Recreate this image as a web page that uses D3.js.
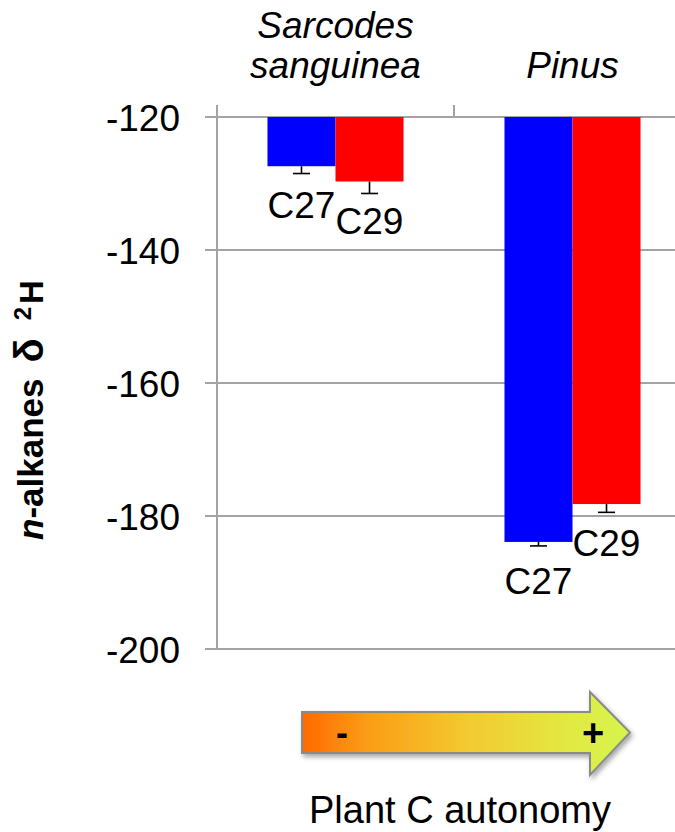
<!DOCTYPE html>
<html>
<head>
<meta charset="utf-8">
<script src="https://cdn.jsdelivr.net/npm/d3@7"></script>
<style>
  html, body { margin: 0; padding: 0; background: #fff; }
  svg { display: block; font-family: "Liberation Sans", Arial, Helvetica, sans-serif; }
</style>
</head>
<body>
<svg id="chart" width="675" height="832"></svg>
<script>
// ---- data ----
const categories = ["Sarcodes sanguinea", "Pinus"];
const categoryLines = [["Sarcodes", "sanguinea"], ["Pinus"]];
const seriesNames = ["C27", "C29"];
const seriesColors = ["#0000ff", "#ff0000"];
const c27Values = [-127.4, -183.9];
const c29Values = [-129.7, -178.2];
const c27Errors = [1.1, 0.6];
const c29Errors = [1.8, 1.25];
const yTicks = [-120, -140, -160, -180, -200];
const axisTitle = { italic: "n", rest: "-alkanes", delta: "δ", sup: "2", tail: "H" };
const arrowLabel = "Plant C autonomy";

const seriesValues = [c27Values, c29Values];
const seriesErrors = [c27Errors, c29Errors];

const svg = d3.select("#chart");

const y = d3.scaleLinear().domain([-120, -200]).range([117, 649]);
const x = d3.scaleBand().domain(categories).range([217, 691]).padding(0);
const groupW = x.bandwidth() * 0.574;
const xs = d3.scaleBand().domain(seriesNames).range([0, groupW]).padding(0);

const gridColor = "#a3a3a3";

// gridlines + left ticks
svg.append("g").selectAll("line").data(yTicks).join("line")
  .attr("x1", 205).attr("x2", 675)
  .attr("y1", d => y(d)).attr("y2", d => y(d))
  .attr("stroke", gridColor).attr("stroke-width", 2);

// y axis line (extends above to category tick)
svg.append("line")
  .attr("x1", 217).attr("x2", 217).attr("y1", 105).attr("y2", y(-200))
  .attr("stroke", gridColor).attr("stroke-width", 2);

// category ticks at top (band boundaries)
const boundaries = categories.map(c => x(c)).concat([x(categories[categories.length - 1]) + x.bandwidth()]);
svg.append("g").selectAll("line").data(boundaries).join("line")
  .attr("x1", d => d).attr("x2", d => d).attr("y1", 105).attr("y2", y(-120))
  .attr("stroke", gridColor).attr("stroke-width", 2);

// y tick labels
svg.append("g").selectAll("text").data(yTicks).join("text")
  .attr("x", 180).attr("y", d => y(d) + 14)
  .attr("text-anchor", "end").attr("font-size", 37).attr("fill", "#000")
  .text(d => d);

// bars
const barData = [];
categories.forEach((c, i) => {
  seriesNames.forEach((s, j) => {
    barData.push({ cat: c, ser: s, value: seriesValues[j][i], err: seriesErrors[j][i], color: seriesColors[j] });
  });
});
const bx = d => x(d.cat) + (x.bandwidth() - groupW) / 2 + xs(d.ser);

svg.append("g").selectAll("rect").data(barData).join("rect")
  .attr("x", bx).attr("width", xs.bandwidth())
  .attr("y", y(-120)).attr("height", d => y(d.value) - y(-120))
  .attr("fill", d => d.color);

// error bars (lower only)
const eb = svg.append("g").attr("stroke", "#000").attr("stroke-width", 1.6);
barData.forEach(d => {
  const cx = bx(d) + xs.bandwidth() / 2;
  eb.append("line").attr("x1", cx).attr("x2", cx).attr("y1", y(d.value)).attr("y2", y(d.value - d.err));
  eb.append("line").attr("x1", cx - 8.5).attr("x2", cx + 8.5).attr("y1", y(d.value - d.err)).attr("y2", y(d.value - d.err));
});

// data labels
svg.append("g").selectAll("text").data(barData).join("text")
  .attr("x", d => bx(d) + xs.bandwidth() / 2)
  .attr("y", d => y(d.value) + 52)
  .attr("text-anchor", "middle").attr("font-size", 37).attr("fill", "#000")
  .text(d => d.ser);

// category labels (top)
categories.forEach((c, i) => {
  const lines = categoryLines[i];
  const cx = x(c) + x.bandwidth() / 2;
  const t = svg.append("text").attr("text-anchor", "middle").attr("font-size", 37)
    .attr("font-style", "italic").attr("fill", "#000");
  const startY = 78 - (lines.length - 1) * 40;
  lines.forEach((ln, k) => {
    t.append("tspan").attr("x", cx).attr("y", startY + k * 40).text(ln);
  });
});

// y axis title
const yt = svg.append("text")
  .attr("transform", "translate(43,540) rotate(-90)")
  .attr("font-size", 35).attr("font-weight", "bold").attr("fill", "#000");
yt.append("tspan").attr("font-style", "italic").text(axisTitle.italic);
yt.append("tspan").text(axisTitle.rest);
yt.append("tspan").attr("dx", 16).attr("font-size", 40).text(axisTitle.delta);
yt.append("tspan").attr("dx", 18).attr("dy", -12).attr("font-size", 24).text(axisTitle.sup);
yt.append("tspan").attr("dx", 3).attr("dy", 12).attr("font-size", 33).text(axisTitle.tail);

// arrow
const defs = svg.append("defs");
const grad = defs.append("linearGradient").attr("id", "arrowGrad")
  .attr("x1", "0%").attr("x2", "100%").attr("y1", "0%").attr("y2", "0%");
[["0%", "#ff6a00"], ["20%", "#fb9d16"], ["50%", "#f3c930"], ["80%", "#e3e841"], ["100%", "#d5f64d"]]
  .forEach(([o, c]) => grad.append("stop").attr("offset", o).attr("stop-color", c));
const filt = defs.append("filter").attr("id", "shadow").attr("x", "-10%").attr("y", "-30%").attr("width", "130%").attr("height", "170%");
filt.append("feDropShadow").attr("dx", 2).attr("dy", 3).attr("stdDeviation", 2.5)
  .attr("flood-color", "#000").attr("flood-opacity", 0.35);

const ax0 = 302, ax1 = 590, aTip = 630, bodyTop = 712, bodyBot = 753, headTop = 692, headBot = 775;
const aMid = (bodyTop + bodyBot) / 2;
const arrowPath = d3.path();
arrowPath.moveTo(ax0, bodyTop);
arrowPath.lineTo(ax1, bodyTop);
arrowPath.lineTo(ax1, headTop);
arrowPath.lineTo(aTip, aMid);
arrowPath.lineTo(ax1, headBot);
arrowPath.lineTo(ax1, bodyBot);
arrowPath.lineTo(ax0, bodyBot);
arrowPath.closePath();
svg.append("path").attr("d", arrowPath.toString())
  .attr("fill", "url(#arrowGrad)").attr("stroke", "#8a8a8a").attr("stroke-width", 2)
  .attr("stroke-linejoin", "miter").attr("filter", "url(#shadow)");

svg.append("text").attr("x", 342).attr("y", aMid + 12).attr("text-anchor", "middle")
  .attr("font-size", 36).attr("font-weight", "bold").attr("fill", "#000").text("-");
svg.append("text").attr("x", 593).attr("y", aMid + 13).attr("text-anchor", "middle")
  .attr("font-size", 38).attr("font-weight", "bold").attr("fill", "#000").text("+");

svg.append("text").attr("x", 460).attr("y", 823).attr("text-anchor", "middle")
  .attr("font-size", 38).attr("fill", "#000").text(arrowLabel);
</script>
</body>
</html>
